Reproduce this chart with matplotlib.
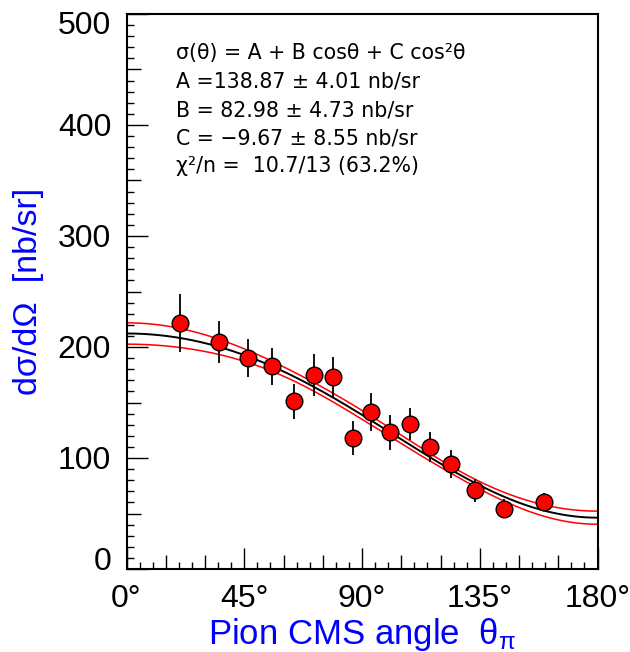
import numpy as np
import matplotlib
matplotlib.use("Agg")
import matplotlib.pyplot as plt
from matplotlib.ticker import FixedLocator, NullFormatter
import matplotlib.transforms as mtransforms

# Measured differential cross section vs. pion CMS angle
theta_deg = [20.4, 35.5, 46.4, 55.7, 63.9, 71.6, 79.0, 86.5,
             93.5, 100.7, 108.2, 115.9, 124.0, 133.3, 144.3, 159.4]
xsec = [221.9, 204.2, 190.4, 182.6, 151.1, 174.8, 173.0, 118.0,
        141.2, 123.2, 130.4, 109.9, 94.3, 70.9, 54.3, 60.4]
xsec_err = [26.0, 19.0, 17.0, 16.7, 15.8, 19.0, 18.0, 15.7,
            17.0, 15.8, 14.6, 13.5, 12.6, 10.2, 8.6, 8.4]

# Fit sigma(theta) = A + B cos(theta) + C cos^2(theta)
fit_A, fit_B, fit_C = 138.87, 82.98, -9.67
err_A, err_B, err_C = 4.01, 4.73, 8.55
rho_AB, rho_AC, rho_BC = 0.0, -0.70, 0.355
chi2, ndf, prob = 10.7, 13, 63.2

x_ticks = [0, 45, 90, 135, 180]
x_tick_labels = ["0°", "45°", "90°", "135°", "180°"]
y_ticks = [0, 100, 200, 300, 400, 500]
y_tick_labels = ["0", "100", "200", "300", "400", "500"]

plt.rcParams["font.family"] = ["Liberation Sans", "DejaVu Sans"]
plt.rcParams["mathtext.fontset"] = "custom"
plt.rcParams["mathtext.rm"] = "Liberation Sans"
plt.rcParams["mathtext.it"] = "Liberation Sans"

W, H = 630, 652
fig = plt.figure(figsize=(W / 100, H / 100), dpi=100)
ax = fig.add_axes([126.5 / W, 1 - 569 / H, 471 / W, 555 / H])

# fit curve with its one-sigma band
th = np.linspace(0, 180, 400)
c = np.cos(np.radians(th))
f = fit_A + fit_B * c + fit_C * c ** 2
var = (err_A ** 2 + (err_B * c) ** 2 + (err_C * c ** 2) ** 2
       + 2 * rho_AB * err_A * err_B * c
       + 2 * rho_AC * err_A * err_C * c ** 2
       + 2 * rho_BC * err_B * err_C * c ** 3)
sig = np.sqrt(np.clip(var, 0, None))
ax.plot(th, f + sig, color="red", lw=1.1, zorder=2)
ax.plot(th, f - sig, color="red", lw=1.1, zorder=2)
ax.plot(th, f, color="black", lw=1.4, zorder=2)

ax.errorbar(theta_deg, xsec, yerr=xsec_err, fmt="none", ecolor="black",
            elinewidth=1.3, capsize=0, zorder=3)
ax.plot(theta_deg, xsec, "o", ms=12, mfc="red", mec="black", mew=1.0,
        zorder=4)

ax.set_xlim(0, 180)
ax.set_ylim(0, 500)

for s in ax.spines.values():
    s.set_linewidth(1.5)

# ticks: major / medium / minor levels
ax.xaxis.set_major_locator(FixedLocator(x_ticks))
ax.set_xticklabels(x_tick_labels)
x_minor = [v for v in range(5, 180, 5) if v % 45 != 0]
ax.xaxis.set_minor_locator(FixedLocator(x_minor))
ax.yaxis.set_major_locator(FixedLocator(y_ticks))
ax.set_yticklabels(y_tick_labels)
y_minor = [v for v in range(10, 500, 10) if v % 100 != 0]
ax.yaxis.set_minor_locator(FixedLocator(y_minor))
ax.xaxis.set_minor_formatter(NullFormatter())
ax.yaxis.set_minor_formatter(NullFormatter())

ax.tick_params(which="both", direction="in", top=False, right=False,
               width=1.0, colors="black")
ax.tick_params(which="major", length=15, labelsize=23)
ax.tick_params(which="minor", length=4.8)
ax.tick_params(axis="x", which="major", pad=11)
ax.tick_params(axis="y", which="major", pad=11)

fig.canvas.draw()
for loc, t in zip(x_minor, ax.xaxis.get_minor_ticks()):
    if loc % 15 == 0:
        t.tick1line.set_markersize(10)
for loc, t in zip(y_minor, ax.yaxis.get_minor_ticks()):
    if loc % 50 == 0:
        t.tick1line.set_markersize(10)

# keep the end labels of the y axis inside the frame
ylabels = ax.get_yticklabels()
ylabels[0].set_transform(ylabels[0].get_transform()
                         + mtransforms.ScaledTranslation(0, 10 / 100, fig.dpi_scale_trans))
ylabels[-1].set_transform(ylabels[-1].get_transform()
                          + mtransforms.ScaledTranslation(0, -8 / 100, fig.dpi_scale_trans))

ax.set_xlabel("Pion CMS angle  θ$_{\\mathregular{π}}$", color="blue",
              fontsize=25, labelpad=1)
ax.set_ylabel("dσ/dΩ  [nb/sr]", color="blue", fontsize=24.5, labelpad=10)

lines = [
    "σ(θ) = A + B cosθ + C cos²θ",
    f"A ={fit_A:.2f} ± {err_A:.2f} nb/sr",
    f"B = {fit_B:.2f} ± {err_B:.2f} nb/sr",
    f"C = −{abs(fit_C):.2f} ± {err_C:.2f} nb/sr",
    f"χ²/n =  {chi2:.1f}/{ndf} ({prob:.1f}%)",
]
baselines = [59.3, 87.3, 116.0, 144.0, 171.7]
for txt, yb in zip(lines, baselines):
    fig.text(176 / W, 1 - yb / H, txt, fontsize=14.8, va="baseline",
             ha="left", color="black", family=["DejaVu Sans"])

fig.savefig("out.png", dpi=100)
